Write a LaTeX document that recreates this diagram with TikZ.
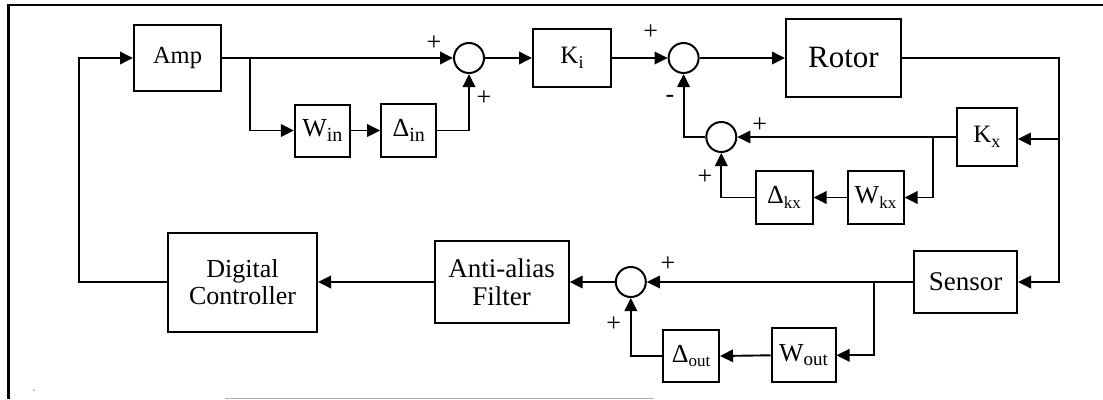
\documentclass[tikz,border=0pt]{standalone}
\usepackage{fontspec}
\setmainfont{Liberation Serif}
\usetikzlibrary{arrows.meta}
\newcommand\lsub[2][20]{\raisebox{-4.5pt}{\fontsize{#1}{#1}\selectfont #2}}
\tikzset{
  blk/.style={draw, line width=2pt, inner sep=0pt, font=\fontsize{26}{27}\selectfont},
  sumc/.style={draw, circle, line width=2pt, minimum size=30pt, inner sep=0pt},
  wire/.style={line width=1.9pt},
  arr/.style={wire, -{Triangle[length=13pt,width=12.5pt]}},
  sgn/.style={font=\fontsize{26}{26}\selectfont, inner sep=0pt},
}
\begin{document}
\begin{tikzpicture}[x=1pt,y=-1pt]
\useasboundingbox (0,0) rectangle (1103,399);
% frame
\draw[line width=2.4pt] (1103,5) -- (8.6,5) -- (8.6,399);
\draw[gray!60, line width=1pt] (225,398) -- (654,398);
\fill[gray!70] (34,390) circle (1pt);

% blocks
\node[blk, minimum width=87pt, minimum height=66pt, font=\fontsize{24.5}{25}\selectfont] (amp) at (177.5,58) {Amp};
\node[blk, minimum width=55pt, minimum height=52pt] (win) at (322.3,130.5) {W\lsub{in}};
\node[blk, minimum width=55pt, minimum height=53pt] (din) at (408.7,130.5) {Δ\lsub{in}};
\node[blk, minimum width=78pt, minimum height=58pt, font=\fontsize{25}{26}\selectfont] (ki) at (572,58) {K\lsub[18]{i}};
\node[blk, minimum width=115pt, minimum height=78pt, font=\fontsize{31}{32}\selectfont] (rotor) at (843.5,58) {Rotor};
\node[blk, minimum width=60pt, minimum height=58pt, font=\fontsize{25}{26}\selectfont] (kx) at (986.8,137) {K\lsub[18]{x}};
\node[blk, minimum width=56pt, minimum height=53pt] (wkx) at (875.5,197.5) {W\lsub[17]{kx}};
\node[blk, minimum width=57pt, minimum height=53pt] (dkx) at (784,197.5) {Δ\lsub[17]{kx}};
\node[blk, minimum width=103pt, minimum height=62pt, font=\fontsize{27}{28}\selectfont] (sensor) at (965.5,282) {Sensor};
\node[blk, minimum width=64pt, minimum height=54pt] (wout) at (803.5,355.3) {W\lsub[19]{out}};
\node[blk, minimum width=56pt, minimum height=52pt] (dout) at (691,356) {Δ\lsub[17]{out}};
\node[blk, minimum width=134pt, minimum height=82pt, align=center, font=\fontsize{27}{28}\selectfont] (aa) at (501.7,282) {Anti-alias\\Filter};
\node[blk, minimum width=149pt, minimum height=99pt, align=center, font=\fontsize{26}{27}\selectfont] (dc) at (242.5,282) {Digital\\Controller};

% summing junctions
\node[sumc] (s1) at (469,58) {};
\node[sumc] (s2) at (683.6,58) {};
\node[sumc] (s3) at (721.3,137) {};
\node[sumc] (s4) at (630.8,282) {};

% signs
\node[sgn] (p1) at (434,43) {+};
\node[sgn] (p2) at (484,98) {+};
\node[sgn] (p3) at (650.6,32) {+};
\node[sgn] (m1) at (670,99) {-};
\node[sgn] (p4) at (759.7,125) {+};
\node[sgn] (p5) at (705,177) {+};
\node[sgn] (p6) at (668,264) {+};
\node[sgn] (p7) at (613.6,324) {+};

% coordinates
\coordinate (lc) at (79.3,282);
\coordinate (b1) at (250,58);
\coordinate (rc) at (1058.8,58);
\coordinate (rk) at (1058.8,139);
\coordinate (b2) at (933,137);
\coordinate (b3) at (874,282);

% connectors
\draw[arr] (dc.west) -- (lc) |- (amp.west);
\draw[arr] (amp.east) -- (s1.west);
\draw[arr] (b1) |- (win.west);
\draw[arr] (win.east) -- (din.west);
\draw[arr] (din.east) -| (s1.south);
\draw[arr] (s1.east) -- (ki.west);
\draw[arr] (ki.east) -- (s2.west);
\draw[arr] (s2.east) -- (rotor.west);
\draw[arr] (rotor.east) -- (rc) |- (sensor.east);
\draw[arr] (rk) -- (kx.east |- rk);
\draw[arr] (kx.west) -- (s3.east);
\draw[arr] (b2) |- (wkx.east);
\draw[arr] (wkx.west) -- (dkx.east);
\draw[arr] (dkx.west) -| (s3.south);
\draw[arr] (s3.west) -| (s2.south);
\draw[arr] (sensor.west) -- (s4.east);
\draw[arr] (b3) |- (wout.east);
\draw[arr] (wout.west) -- (dout.east);
\draw[arr] (dout.west) -| (s4.south);
\draw[arr] (s4.west) -- (aa.east);
\draw[arr] (aa.west) -- (dc.east);
\end{tikzpicture}
\end{document}
